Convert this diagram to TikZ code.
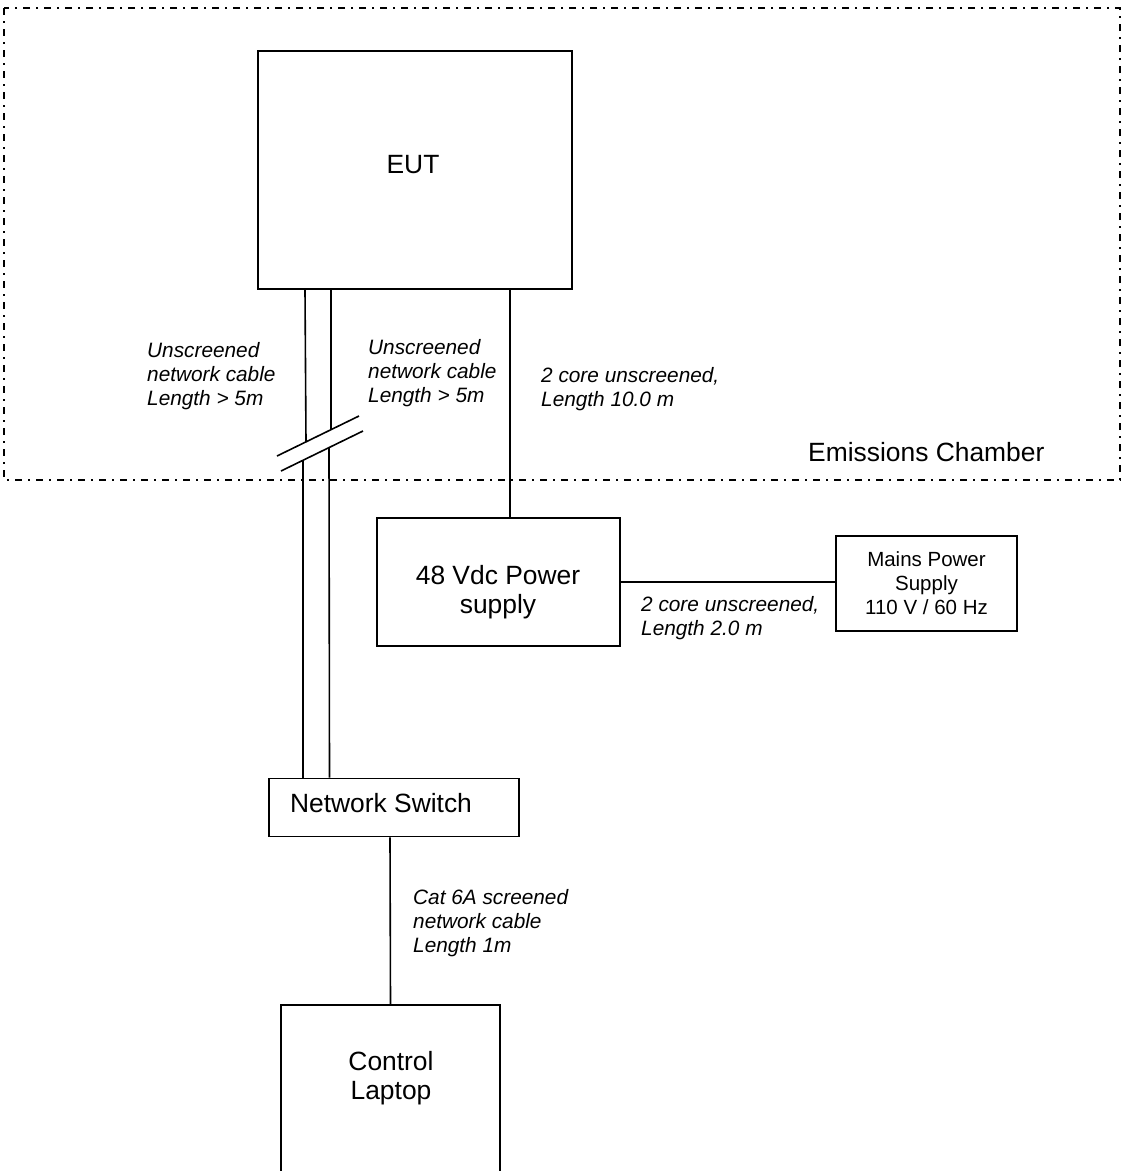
\documentclass[tikz,border=0pt]{standalone}
\usepackage{fontspec}
\setmainfont{Liberation Sans}
\begin{document}
\begin{tikzpicture}[x=1pt,y=-1pt,
  box/.style={draw, line width=1.6pt, rectangle, inner sep=0pt},
  big/.style={font=\fontsize{26.4}{29.5}\selectfont, align=center},
  mid/.style={font=\fontsize{20.5}{24}\selectfont, align=center},
  lbl/.style={font=\fontsize{20.8}{24}\selectfont\itshape, align=left, anchor=north west, inner sep=0pt},
  wire/.style={line width=1.6pt},
  chamber/.style={line width=1.4pt, dash pattern=on 7pt off 6pt on 2pt off 6pt}]
\clip (0,0) rectangle (1124,1171);
\useasboundingbox (0,0) rectangle (1124,1171);

% chamber
\draw[chamber] (4,8) rectangle (1120,480);
\node[big, anchor=base west, inner sep=0pt] (chlbl) at (808,461) {Emissions Chamber};

% boxes
\node[box, minimum width=314pt, minimum height=238pt] (eut) at (415,170) {};
\node[big] (eutlbl) at (413,165) {EUT};

\node[box, minimum width=243pt, minimum height=128pt] (psu) at (498.5,582) {};
\node[big] (psulbl) at (498,592) {48 Vdc Power\\supply};

\node[box, minimum width=181pt, minimum height=95pt, mid] (mains) at (926.5,583.5) {Mains Power\\Supply\\110 V / 60 Hz};

\node[box, minimum width=250pt, minimum height=58pt] (sw) at (394,807.5) {};
\node[big] (swlbl) at (381,803) {Network Switch};

\node[box, minimum width=219pt, minimum height=300pt, anchor=north] (laptop) at (390.5,1004) {};
\node[big] (laptoplbl) at (391,1078) {Control\\Laptop};

% break coordinates
\coordinate (b1u) at (306,441.8);
\coordinate (b1l) at (303,460.3);
\coordinate (b2u) at (330.7,429.8);
\coordinate (b2l) at (329,447.6);

% network cables with break
\draw[wire] (eut.south west -| 305,0) -- (b1u);
\draw[wire] (b1l) -- (sw.north west -| 303,0);
\draw[wire] (eut.south west -| 330.7,0) -- (b2u);
\draw[wire] (b2l) -- (sw.north west -| 329.5,0);
\draw[wire] (277,456) coordinate (s1a) -- (359,416) coordinate (s1b);
\draw[wire] (281,471) coordinate (s2a) -- (363,431) coordinate (s2b);

% power cables
\draw[wire] (eut.south west -| 510,0) -- (psu.north west -| 510,0);
\draw[wire] (psu.east) -- (psu.east -| mains.west);

% laptop cable
\draw[wire] (sw.south west -| 390,0) -- (laptop.north);

% labels
\node[lbl] (l1) at (147,342) {Unscreened\\network cable\\Length > 5m};
\node[lbl] (l2) at (368,339) {Unscreened\\network cable\\Length > 5m};
\node[lbl] (l3) at (541,367) {2 core unscreened,\\Length 10.0 m};
\node[lbl] (l4) at (641,596) {2 core unscreened,\\Length 2.0 m};
\node[lbl] (l5) at (413,889) {Cat 6A screened\\network cable\\Length 1m};
\end{tikzpicture}
\end{document}
